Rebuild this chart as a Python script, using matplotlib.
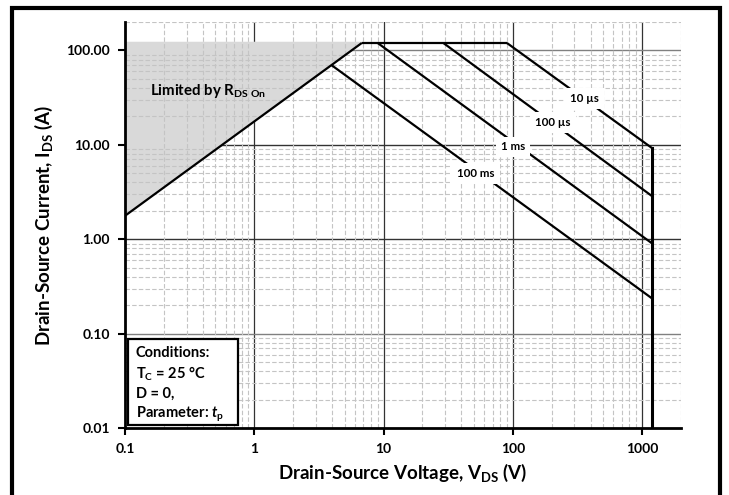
import matplotlib
matplotlib.use('Agg')
import matplotlib.pyplot as plt
from matplotlib.patches import Rectangle
from matplotlib.ticker import FixedLocator, NullFormatter

plt.rcParams['font.family'] = ['Lato', 'DejaVu Sans']
plt.rcParams['font.weight'] = 'bold'
plt.rcParams['axes.labelweight'] = 'bold'
plt.rcParams['mathtext.fontset'] = 'custom'
plt.rcParams['mathtext.rm'] = 'Lato:bold'
plt.rcParams['mathtext.bf'] = 'Lato:bold'
plt.rcParams['mathtext.it'] = 'Lato:bold:italic'

# SOA boundaries (V_DS in V, I_DS in A)
rds_v = [0.1, 6.8]
rds_i = [1.77, 120]
top_v = [6.8, 90]
top_i = [120, 120]
us10_v = [90, 1200]
us10_i = [120, 9.2]
us100_v = [29, 1200]
us100_i = [120, 2.85]
ms1_v = [9, 1200]
ms1_i = [120, 0.9]
ms100_v = [3.95, 1200]
ms100_i = [70, 0.235]
vmax_v = [1200, 1200]
vmax_i = [9.2, 0.01]

# curve labels: text, V, I
label_txt = ['10 µs', '100 µs', '1 ms', '100 ms']
label_v = [360, 205, 100, 52]
label_i = [31, 17.3, 9.5, 4.95]

x_ticks = [0.1, 1, 10, 100, 1000]
x_ticklabels = ['0.1', '1', '10', '100', '1000']
y_ticks = [0.01, 0.1, 1, 10, 100]
y_ticklabels = ['0.01', '0.10', '1.00', '10.00', '100.00']

fig = plt.figure(figsize=(7.29, 4.95), dpi=100)
ax = fig.add_axes([0.1715, 0.1354, 0.7625, 0.8202])
ax.set_xscale('log')
ax.set_yscale('log')
ax.set_xlim(0.1, 2000)
ax.set_ylim(0.01, 200)

# grid
minor = [m * 10.0 ** e for e in range(-2, 4) for m in range(2, 10)]
ax.xaxis.set_minor_locator(FixedLocator([v for v in minor if 0.1 < v <= 2000]))
ax.yaxis.set_minor_locator(FixedLocator([v for v in minor if 0.01 < v <= 200]))
ax.xaxis.set_minor_formatter(NullFormatter())
ax.yaxis.set_minor_formatter(NullFormatter())
ax.grid(which='minor', color='#c4c4c4', linestyle=(0, (4, 2)), linewidth=0.8)
for xv in x_ticks[1:]:
    ax.axvline(xv, color='#333333', lw=0.9, zorder=1)
y_major_col = ['#333333', '#808080', '#333333', '#333333', '#808080']
for yv, c in zip(y_ticks, y_major_col):
    if yv > 0.01:
        ax.axhline(yv, color=c, lw=1.0, zorder=1)

# shaded R_DS(on) region
ax.fill_between(rds_v, rds_i, [125, 125], color='#d9d9d9', lw=0, zorder=1.5)

lw = 1.6
for v, i in [(rds_v, rds_i), (top_v, top_i), (us10_v, us10_i), (us100_v, us100_i),
             (ms1_v, ms1_i), (ms100_v, ms100_i)]:
    ax.plot(v, i, color='black', lw=lw, solid_capstyle='butt', zorder=3)
ax.plot(vmax_v, vmax_i, color='black', lw=2.2, zorder=3)

for t, v, i in zip(label_txt, label_v, label_i):
    ax.text(v, i, t, fontsize=8.3, fontweight='bold', ha='center', va='center', zorder=4,
            bbox=dict(facecolor='white', edgecolor='none', pad=3.5))

ax.text(0.155, 37, r'Limited by R$_{\mathbf{DS\ On}}$', fontsize=10.8, fontweight='bold',
        ha='left', va='center', zorder=4)

# conditions box
ax.add_patch(Rectangle((0.006, 0.007), 0.197, 0.212, transform=ax.transAxes,
                       facecolor='white', edgecolor='black', lw=1.6, zorder=5))
cond = ['Conditions:', r'T$_\mathbf{C}$ = 25 °C', 'D = 0,', r'Parameter: $\mathit{t}_\mathbf{p}$']
for k, line in enumerate(cond):
    ax.text(0.019, 0.184 - k * 0.05, line, transform=ax.transAxes, fontsize=10.5,
            fontweight='bold', ha='left', va='center', zorder=6)

ax.set_xticks(x_ticks)
ax.set_xticklabels(x_ticklabels, fontweight='bold')
ax.set_yticks(y_ticks)
ax.set_yticklabels(y_ticklabels, fontweight='bold')
ax.tick_params(which='major', direction='out', length=5, width=1.5, labelsize=10, pad=6)
ax.tick_params(which='minor', length=0)
for s in ['top', 'right']:
    ax.spines[s].set_visible(False)
for s in ['left', 'bottom']:
    ax.spines[s].set_linewidth(2)
    ax.spines[s].set_zorder(7)

ax.set_xlabel(r'Drain-Source Voltage, V$_{\mathbf{DS}}$ (V)', fontsize=13.5,
              fontweight='bold', labelpad=5)
ax.set_ylabel(r'Drain-Source Current, I$_{\mathbf{DS}}$ (A)', fontsize=13.5,
              fontweight='bold', labelpad=8)

# outer frame
fig.patches.append(Rectangle((12 / 729, -0.05), 708 / 729, 1 - 8 / 495 + 0.05,
                             transform=fig.transFigure, fill=False,
                             edgecolor='black', lw=3))

fig.savefig('out.png', dpi=100)
